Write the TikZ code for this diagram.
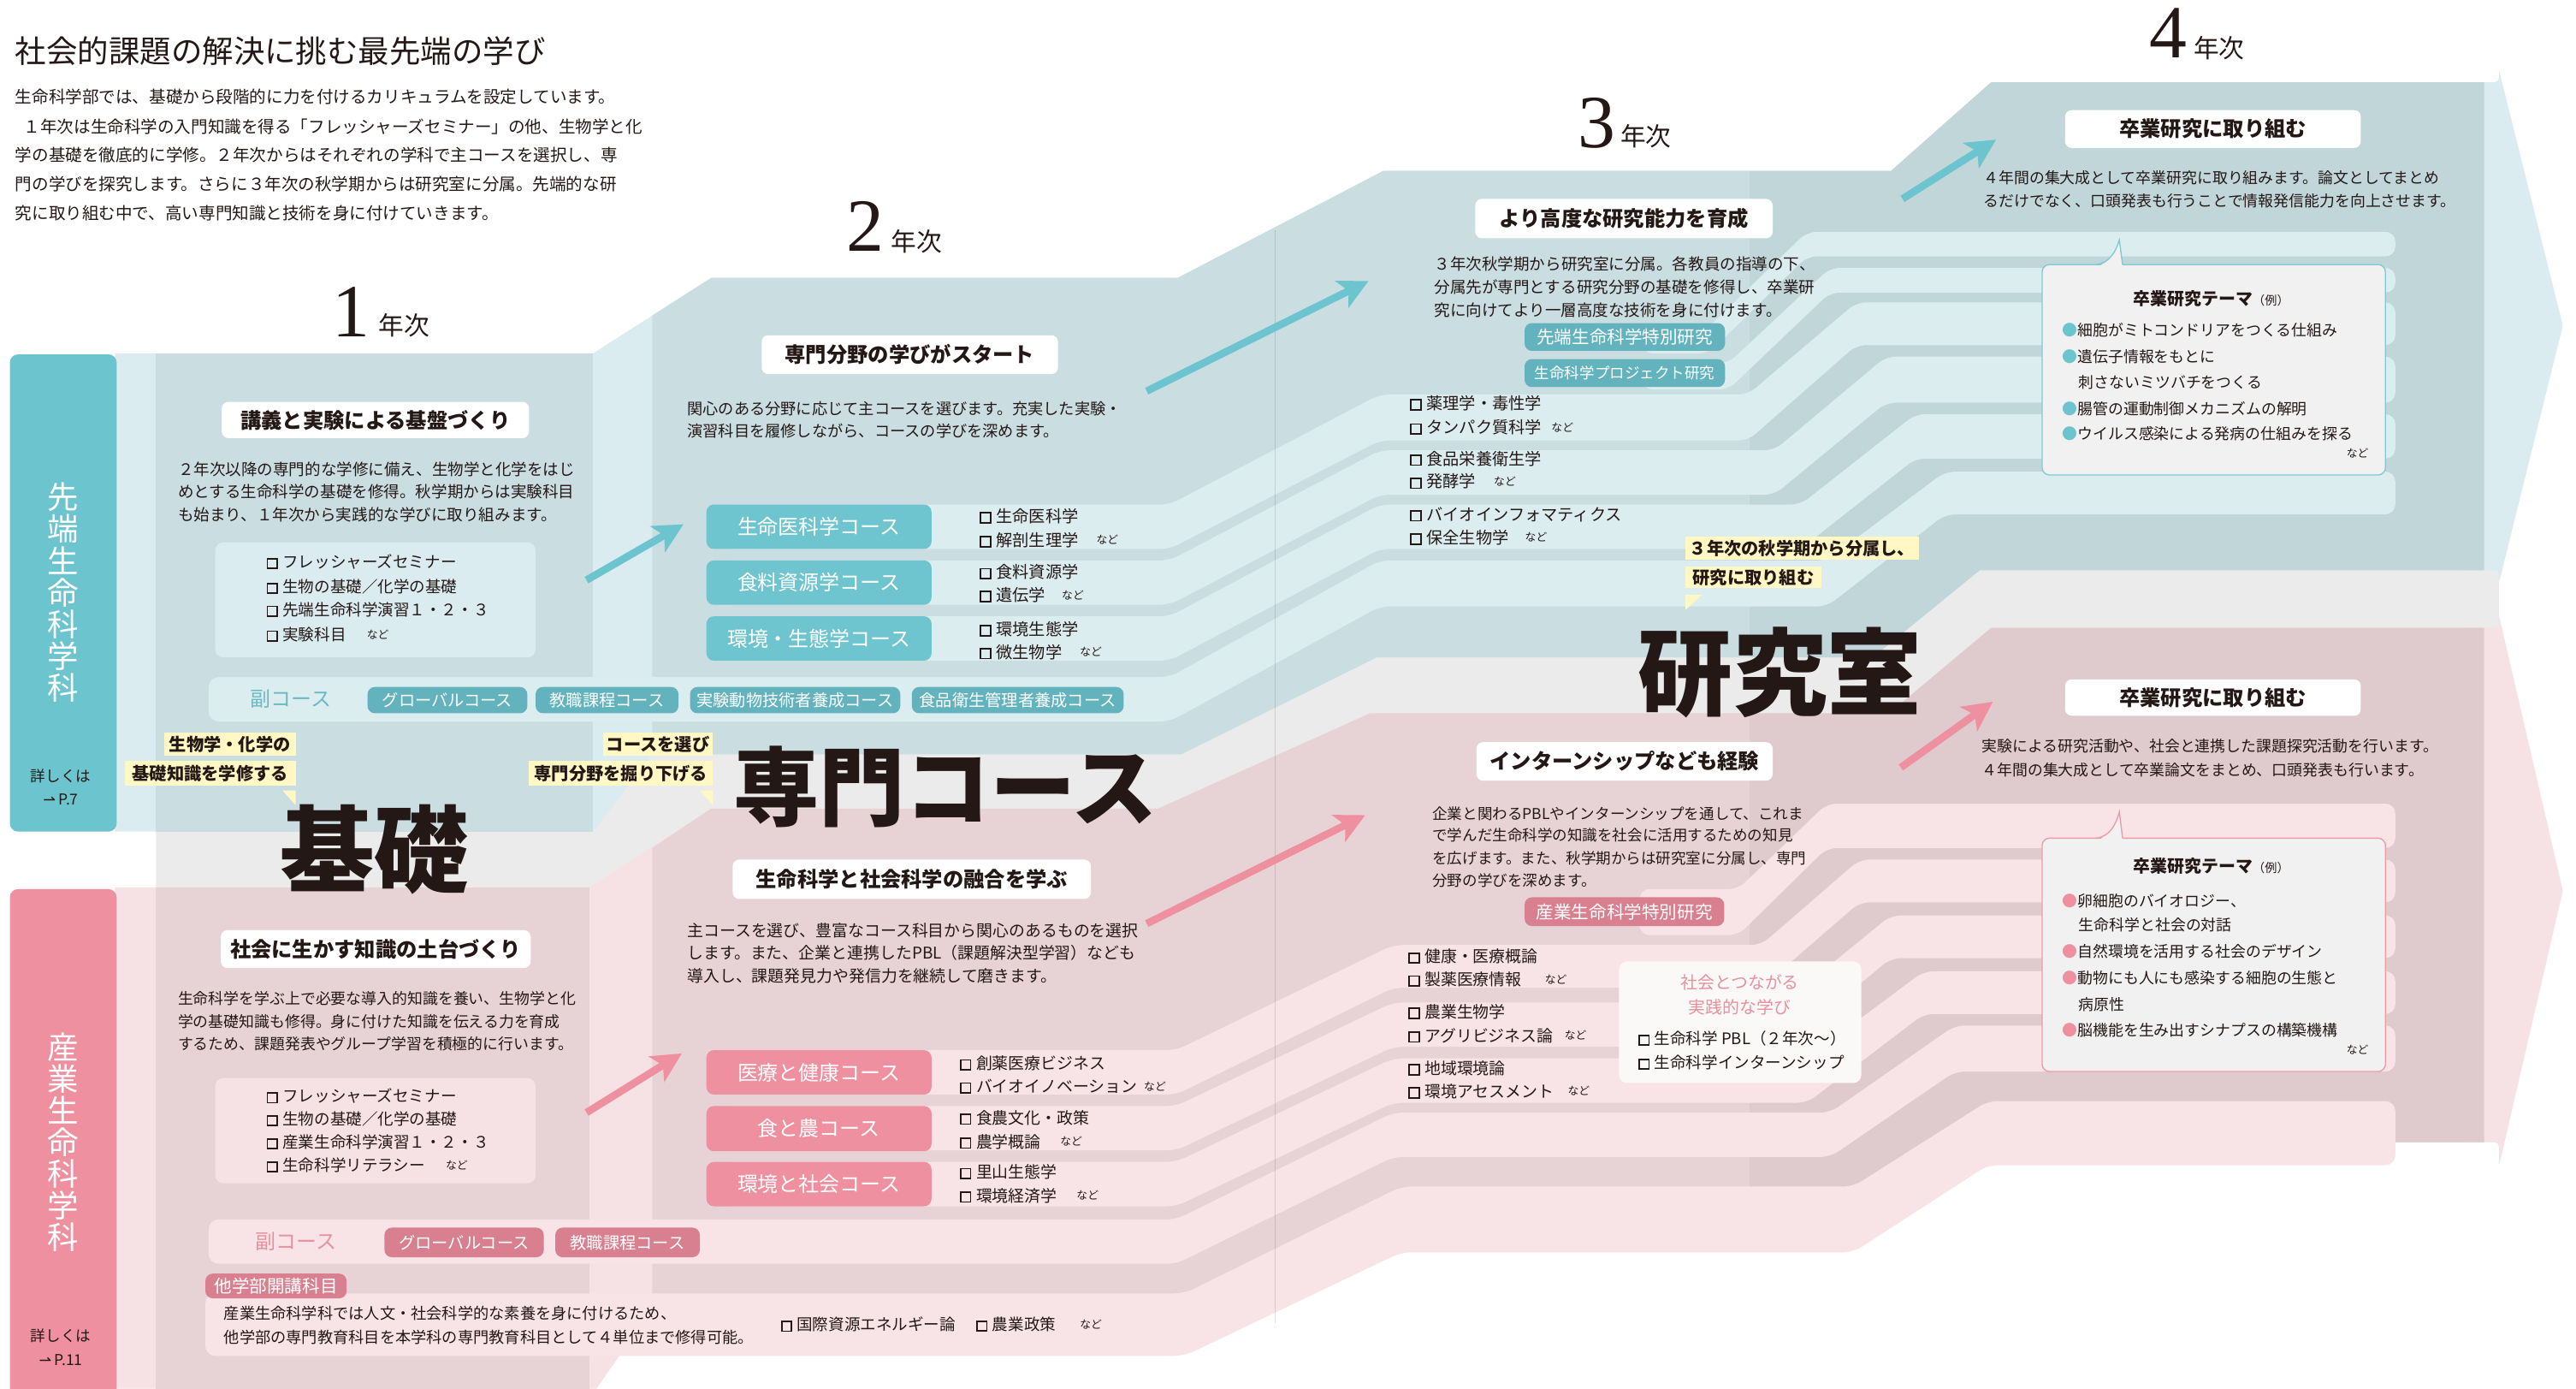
\documentclass[tikz,border=0pt]{standalone}
\usepackage{fontspec}
\setmainfont{Noto Sans CJK JP}
\newfontfamily\numfont{Liberation Serif}
\newfontfamily\symfont{DejaVu Sans}
\usetikzlibrary{arrows.meta}
\definecolor{ink}{HTML}{231815}
\definecolor{tTab}{HTML}{6CC4CE}
\definecolor{tLight}{HTML}{DAECEF}
\definecolor{tMid}{HTML}{CADDE0}
\definecolor{tDark}{HTML}{C1D6D9}
\definecolor{tStripe}{HTML}{DCEDF0}
\definecolor{tBtn}{HTML}{6FC5CF}
\definecolor{tBtn2}{HTML}{63B3BE}
\definecolor{tSub}{HTML}{6BB9C4}
\definecolor{tBorder}{HTML}{7FC9D2}
\definecolor{pTab}{HTML}{EE909F}
\definecolor{pLight}{HTML}{F6E1E4}
\definecolor{pMid}{HTML}{E7D3D6}
\definecolor{pDark}{HTML}{DFCACD}
\definecolor{pStripe}{HTML}{F8E4E7}
\definecolor{pBtn}{HTML}{EE909F}
\definecolor{pBtn2}{HTML}{D8808F}
\definecolor{pSub}{HTML}{E5919E}
\definecolor{pBorder}{HTML}{EE9AA7}
\definecolor{greyB}{HTML}{EBEBEB}
\definecolor{yel}{HTML}{FFF8C4}
\definecolor{bub}{HTML}{F1F1F1}
\definecolor{soc}{HTML}{FBF9F8}
\newcommand{\fsz}[1]{\fontsize{#1}{#1}\selectfont}
\newcommand{\cbx}{\raisebox{0.02em}{\setlength{\fboxsep}{0pt}\setlength{\fboxrule}{0.5pt}\fbox{\rule{0pt}{0.52em}\hspace{0.52em}}}\hspace{0.3em}}
\newcommand{\hdbox}[6]{\fill[white, rounded corners=0.8mm] (#2,#3) rectangle (#4,#5); \node[hd] (#1) at ({(#2+#4)/2},{(#3+#5)/2}) {#6};}
\newcommand{\btn}[8]{\fill[#2, rounded corners=0.9mm] (#3,#4) rectangle (#5,#6); \node[#7] (#1) at ({(#3+#5)/2},{(#4+#6)/2}) {#8};}
\newcommand{\callout}[6]{\fill[yel] (#2,#3) rectangle (#4,#5); \node[cal] (#1) at ({(#2+#4)/2},{(#3+#5)/2}) {#6};}
\begin{document}
\begin{tikzpicture}[x=0.2mm,y=-0.2mm,
 every node/.style={inner sep=0pt, text=ink},
 tx/.style={anchor=west, font=\fsz{5.5pt}},
 hd/.style={font=\fsz{7.2pt}\bfseries},
 bt/.style={text=white, font=\fsz{7.1pt}},
 sbt/.style={text=white, font=\fsz{5.7pt}},
 rbt/.style={text=white, font=\fsz{6.1pt}},
 cal/.style={font=\fsz{6pt}\bfseries},
 nd/.style={anchor=west, font=\fsz{3.8pt}},
 bigw/.style={font=\bfseries},
 stT/.style={fill=tStripe, rounded corners=1.2mm},
 stP/.style={fill=pStripe, rounded corners=1.2mm},
 arT/.style={draw=tTab, line width=0.9mm, -{Stealth[length=3.6mm,width=3.6mm,inset=0.9mm]}},
 arP/.style={draw=pTab, line width=0.9mm, -{Stealth[length=3.6mm,width=3.6mm,inset=0.9mm]}}
]
\useasboundingbox (0,0) rectangle (1568,845);
\fill[white] (0,0) rectangle (1568,845);
% ---------- grey middle band
\fill[greyB] (95,500) -- (361,500) -- (397,453) -- (719,453) -- (838,394) -- (1140,394) -- (1205,341) -- (1521,341) -- (1521,388) -- (1212,388) -- (1150,440) -- (834,440) -- (705,498) -- (433,498) -- (359,546) -- (95,546) -- cycle;
% ---------- teal band
\fill[tLight, rounded corners=0.5mm] (1495,50) -- (1521,50) -- (1521,42) -- (1560,198) -- (1521,355) -- (1521,347) -- (1495,347) -- cycle;
\fill[tLight] (70,215) -- (361,215) -- (433,169) -- (717,169) -- (842,104) -- (1151,104) -- (1212,50) -- (1512,50) -- (1512,347) -- (1205,347) -- (1140,400) -- (838,400) -- (719,459) -- (397,459) -- (361,506) -- (70,506) -- cycle;
\fill[tMid] (95,215) rectangle (361,506);
\fill[tMid] (397,192) -- (433,169) -- (717,169) -- (842,104) -- (1065,104) -- (1065,400) -- (838,400) -- (719,459) -- (397,459) -- cycle;
\fill[tDark] (1065,104) -- (1151,104) -- (1212,50) -- (1512,50) -- (1512,347) -- (1205,347) -- (1140,400) -- (1065,400) -- cycle;
\fill[stT] (440,307) -- (712,307) -- (840,240) -- (1064,240) -- (1130,184) -- (1458,184) -- (1458,210) -- (1130,210) -- (1064,268) -- (840,268) -- (712,334) -- (440,334) -- cycle;
\fill[stT] (440,341) -- (712,341) -- (840,274) -- (1080,274) -- (1148,217) -- (1458,217) -- (1458,245) -- (1148,245) -- (1080,301) -- (840,301) -- (712,368) -- (440,368) -- cycle;
\fill[stT] (440,375) -- (712,375) -- (840,307) -- (1096,307) -- (1166,252) -- (1458,252) -- (1458,279) -- (1166,279) -- (1096,334) -- (840,334) -- (712,402) -- (440,402) -- cycle;
\fill[stT] (127,412) -- (712,412) -- (840,341) -- (1112,341) -- (1184,287) -- (1458,287) -- (1458,313) -- (1184,313) -- (1112,369) -- (840,369) -- (712,439) -- (127,439) -- cycle;
\fill[stT] (1000,199) -- (1040,199) -- (1100,141) -- (1458,141) -- (1458,156) -- (1100,156) -- (1040,215) -- (1000,215) -- cycle;
\fill[stT] (1000,221) -- (1052,221) -- (1114,163) -- (1458,163) -- (1458,178) -- (1114,178) -- (1052,237) -- (1000,237) -- cycle;
% ---------- pink band
\fill[pLight, rounded corners=0.5mm] (1495,382) -- (1521,382) -- (1521,374) -- (1560,542) -- (1521,710) -- (1521,695) -- (1495,695) -- cycle;
\fill[pLight] (70,540) -- (359,540) -- (433,492) -- (705,492) -- (834,434) -- (1150,434) -- (1212,382) -- (1512,382) -- (1512,695) -- (1205,695) -- (1126,750) -- (853,750) -- (721,815) -- (384,815) -- (363,845) -- (70,845) -- cycle;
\fill[pMid] (95,540) rectangle (359,845);
\fill[pMid] (397,516) -- (433,492) -- (705,492) -- (834,434) -- (1065,434) -- (1065,750) -- (853,750) -- (721,815) -- (397,815) -- cycle;
\fill[pDark] (1065,434) -- (1150,434) -- (1212,382) -- (1512,382) -- (1512,695) -- (1205,695) -- (1126,750) -- (1065,750) -- cycle;
\fill[stP] (440,639) -- (716,639) -- (848,575) -- (1072,575) -- (1132,523) -- (1458,523) -- (1458,549) -- (1132,549) -- (1072,601) -- (848,601) -- (716,666) -- (440,666) -- cycle;
\fill[stP] (440,673) -- (716,673) -- (848,610) -- (1086,610) -- (1151,557) -- (1458,557) -- (1458,583) -- (1151,583) -- (1086,637) -- (848,637) -- (716,700) -- (440,700) -- cycle;
\fill[stP] (440,707) -- (716,707) -- (848,644) -- (1100,644) -- (1171,591) -- (1458,591) -- (1458,617) -- (1171,617) -- (1100,671) -- (848,671) -- (716,734) -- (440,734) -- cycle;
\fill[stP] (127,742) -- (716,742) -- (848,677) -- (1114,677) -- (1190,624) -- (1458,624) -- (1458,652) -- (1190,652) -- (1114,704) -- (848,704) -- (716,769) -- (127,769) -- cycle;
\fill[stP] (125,787) -- (721,787) -- (853,722) -- (1128,722) -- (1210,670) -- (1458,670) -- (1458,709) -- (1210,709) -- (1128,762) -- (853,762) -- (721,825) -- (125,825) -- cycle;
\fill[stP] (998,541) -- (1058,541) -- (1112,489) -- (1458,489) -- (1458,516) -- (1112,516) -- (1058,569) -- (998,569) -- cycle;
% gutter line
\draw[black, opacity=0.12, line width=0.3pt] (776,140) -- (776,805);
% ---------- header
\node[anchor=west, font=\fsz{10.8pt}] (title) at (9,31) {社会的課題の解決に挑む最先端の学び};
\node[tx, font=\fsz{5.8pt}] (p1) at (9,59) {生命科学部では、基礎から段階的に力を付けるカリキュラムを設定しています。};
\node[tx, font=\fsz{5.8pt}] (p2) at (9,77) {\hspace{0.5em}１年次は生命科学の入門知識を得る「フレッシャーズセミナー」の他、生物学と化};
\node[tx, font=\fsz{5.8pt}] (p3) at (9,94.5) {学の基礎を徹底的に学修。２年次からはそれぞれの学科で主コースを選択し、専};
\node[tx, font=\fsz{5.8pt}] (p4) at (9,112) {門の学びを探究します。さらに３年次の秋学期からは研究室に分属。先端的な研};
\node[tx, font=\fsz{5.8pt}] (p5) at (9,129.5) {究に取り組む中で、高い専門知識と技術を身に付けていきます。};
% years
\node[anchor=base west, font=\numfont\fsz{26pt}] (y1n) at (202,205) {1};
\node[anchor=base west, font=\fsz{8.8pt}] (y1t) at (230,204) {年次};
\node[anchor=base west, font=\numfont\fsz{26pt}] (y2n) at (515,153) {2};
\node[anchor=base west, font=\fsz{8.8pt}] (y2t) at (542,153) {年次};
\node[anchor=base west, font=\numfont\fsz{26pt}] (y3n) at (960,90) {3};
\node[anchor=base west, font=\fsz{8.8pt}] (y3t) at (986,89) {年次};
\node[anchor=base west, font=\numfont\fsz{26pt}] (y4n) at (1308,35) {4};
\node[anchor=base west, font=\fsz{8.8pt}] (y4t) at (1335,35) {年次};
% ---------- tabs
\fill[tTab, rounded corners=1mm] (6,215.6) rectangle (71,506);
\node[text=white, align=center, font=\fontsize{10.8pt}{11pt}\selectfont] (tabT) at (38.5,360.5) {先\\端\\生\\命\\科\\学\\科};
\node[font=\fsz{5.2pt}] (tabTa) at (37,472) {詳しくは};
\node[font=\fsz{5.2pt}] (tabTb) at (37,486.5) {{\symfont ⇀}\,P.7};
\fill[pTab, rounded corners=1mm] (6,541) rectangle (71,870);
\node[text=white, align=center, font=\fontsize{10.8pt}{11pt}\selectfont] (tabP) at (38.5,695) {産\\業\\生\\命\\科\\学\\科};
\node[font=\fsz{5.2pt}] (tabPa) at (37,813) {詳しくは};
\node[font=\fsz{5.2pt}] (tabPb) at (37,827.5) {{\symfont ⇀}\,P.11};
% ---------- col1 teal
\hdbox{h1t}{135}{244.5}{322}{266.6}{講義と実験による基盤づくり}
\node[tx] (c1t1) at (108,285.6) {２年次以降の専門的な学修に備え、生物学と化学をはじ};
\node[tx] (c1t2) at (108,299) {めとする生命科学の基礎を修得。秋学期からは実験科目};
\node[tx] (c1t3) at (108,313) {も始まり、１年次から実践的な学びに取り組みます。};
\fill[tLight, rounded corners=1mm] (131,330) rectangle (326,400);
\node[tx] (i1t1) at (162,342) {\cbx フレッシャーズセミナー};
\node[tx] (i1t2) at (162,357) {\cbx 生物の基礎／化学の基礎};
\node[tx] (i1t3) at (162,371) {\cbx 先端生命科学演習１・２・３};
\node[tx] (i1t4) at (162,386) {\cbx 実験科目};
\node[nd] (n1t) at (223,386) {など};
\node[font=\fsz{7.1pt}, text=tSub] (subT) at (177,425.5) {副コース};
\btn{s1}{tBtn2}{223.7}{418}{321}{434}{sbt}{グローバルコース}
\btn{s2}{tBtn2}{326}{418}{413}{434}{sbt}{教職課程コース}
\btn{s3}{tBtn2}{420}{418}{548}{434}{sbt}{実験動物技術者養成コース}
\btn{s4}{tBtn2}{555}{418}{684}{434}{sbt}{食品衛生管理者養成コース}
\callout{ca1}{100}{446}{180}{460}{生物学・化学の}
\callout{ca2}{76}{463}{180}{478}{基礎知識を学修する}
\fill[yel] (172,481) -- (180,481) -- (180,490) -- cycle;
\callout{cb1}{367}{446}{434}{460}{コースを選び}
\callout{cb2}{322}{463}{434}{478}{専門分野を掘り下げる}
\fill[yel] (426,481) -- (434,481) -- (434,490) -- cycle;
% ---------- col2 teal
\hdbox{h2t}{463.6}{204}{644}{227.6}{専門分野の学びがスタート}
\node[tx, font=\fsz{5.4pt}] (c2t1) at (418,248.5) {関心のある分野に応じて主コースを選びます。充実した実験・};
\node[tx, font=\fsz{5.4pt}] (c2t2) at (418,262) {演習科目を履修しながら、コースの学びを深めます。};
\btn{k1}{tBtn}{430}{307}{567}{334}{bt}{生命医科学コース}
\btn{k2}{tBtn}{430}{341}{567}{368}{bt}{食料資源学コース}
\btn{k3}{tBtn}{430}{375}{567}{402}{bt}{環境・生態学コース}
\node[tx, font=\fsz{5.7pt}] (i2t1) at (596,314) {\cbx 生命医科学};
\node[tx, font=\fsz{5.7pt}] (i2t2) at (596,328.6) {\cbx 解剖生理学};
\node[nd] (n2t1) at (667,328.6) {など};
\node[tx, font=\fsz{5.7pt}] (i2t3) at (596,348) {\cbx 食料資源学};
\node[tx, font=\fsz{5.7pt}] (i2t4) at (596,362) {\cbx 遺伝学};
\node[nd] (n2t2) at (646,362) {など};
\node[tx, font=\fsz{5.7pt}] (i2t5) at (596,382.7) {\cbx 環境生態学};
\node[tx, font=\fsz{5.7pt}] (i2t6) at (596,396.7) {\cbx 微生物学};
\node[nd] (n2t3) at (657,396.7) {など};
% ---------- col3 teal
\hdbox{h3t}{898}{121}{1079}{145}{より高度な研究能力を育成}
\node[tx] (c3t1) at (872.7,160.7) {３年次秋学期から研究室に分属。各教員の指導の下、};
\node[tx] (c3t2) at (872.7,174.7) {分属先が専門とする研究分野の基礎を修得し、卒業研};
\node[tx] (c3t3) at (872.7,188.6) {究に向けてより一層高度な技術を身に付けます。};
\btn{r1}{tBtn2}{928}{196.6}{1050}{213.5}{rbt}{先端生命科学特別研究}
\btn{r2}{tBtn2}{928}{218.5}{1050}{235.5}{sbt, font=\fsz{5.2pt}}{生命科学プロジェクト研究}
\node[tx, font=\fsz{5.7pt}] (i3t1) at (858,245.3) {\cbx 薬理学・毒性学};
\node[tx, font=\fsz{5.7pt}] (i3t2) at (858,260) {\cbx タンパク質科学};
\node[nd] (n3t1) at (944,260) {など};
\node[tx, font=\fsz{5.7pt}] (i3t3) at (858,279) {\cbx 食品栄養衛生学};
\node[tx, font=\fsz{5.7pt}] (i3t4) at (858,293) {\cbx 発酵学};
\node[nd] (n3t2) at (909,293) {など};
\node[tx, font=\fsz{5.7pt}] (i3t5) at (858,313) {\cbx バイオインフォマティクス};
\node[tx, font=\fsz{5.7pt}] (i3t6) at (858,327) {\cbx 保全生物学};
\node[nd] (n3t3) at (928,327) {など};
\callout{cc1}{1026}{326.6}{1168}{340.6}{３年次の秋学期から分属し、}
\callout{cc2}{1026}{344.5}{1108.6}{358}{研究に取り組む}
\fill[yel] (1026,362) -- (1036,362) -- (1026,371) -- cycle;
% ---------- col4 teal
\hdbox{h4t}{1257}{67}{1437}{90}{卒業研究に取り組む}
\node[tx, font=\fsz{5.3pt}] (c4t1) at (1207,108) {４年間の集大成として卒業研究に取り組みます。論文としてまとめ};
\node[tx, font=\fsz{5.3pt}] (c4t2) at (1207,122) {るだけでなく、口頭発表も行うことで情報発信能力を向上させます。};
\fill[bub, draw=tBorder, line width=0.4pt, rounded corners=0.9mm] (1243,161) rectangle (1452,289);
\fill[bub] (1276,162.5) .. controls (1284,160) and (1288,153) .. (1290,146) -- (1292,162.5) -- cycle;
\draw[tBorder, line width=0.4pt] (1276,161) .. controls (1284,160) and (1288,153) .. (1290,146) -- (1292,161);
\node[font=\fsz{5.9pt}\bfseries] (bt0) at (1346,181.6) {卒業研究テーマ{\mdseries\fsz{4.2pt}（例）}};
\node[tx, font=\fsz{5.3pt}] (bt1) at (1255,201) {{\color{tTab}●}細胞がミトコンドリアをつくる仕組み};
\node[tx, font=\fsz{5.3pt}] (bt2) at (1255,217) {{\color{tTab}●}遺伝子情報をもとに};
\node[tx, font=\fsz{5.3pt}] (bt3) at (1265,232.5) {刺さないミツバチをつくる};
\node[tx, font=\fsz{5.3pt}] (bt4) at (1255,248.7) {{\color{tTab}●}腸管の運動制御メカニズムの解明};
\node[tx, font=\fsz{5.3pt}] (bt5) at (1255,264) {{\color{tTab}●}ウイルス感染による発病の仕組みを探る};
\node[nd, anchor=east] (bt6) at (1442,276) {など};
% ---------- col1 pink
\hdbox{h1p}{134.4}{566}{323}{589}{社会に生かす知識の土台づくり}
\node[tx, font=\fsz{5.3pt}] (c1p1) at (108,607.8) {生命科学を学ぶ上で必要な導入的知識を養い、生物学と化};
\node[tx, font=\fsz{5.3pt}] (c1p2) at (108,621.6) {学の基礎知識も修得。身に付けた知識を伝える力を育成};
\node[tx, font=\fsz{5.3pt}] (c1p3) at (108,635.3) {するため、課題発表やグループ学習を積極的に行います。};
\fill[pLight, rounded corners=1mm] (131,656) rectangle (326,720);
\node[tx] (i1p1) at (162,667) {\cbx フレッシャーズセミナー};
\node[tx] (i1p2) at (162,681) {\cbx 生物の基礎／化学の基礎};
\node[tx] (i1p3) at (162,695) {\cbx 産業生命科学演習１・２・３};
\node[tx] (i1p4) at (162,709) {\cbx 生命科学リテラシー};
\node[nd] (n1p) at (271,709) {など};
\node[font=\fsz{7.1pt}, text=pSub] (subP) at (180,755.5) {副コース};
\btn{s5}{pBtn2}{234}{747}{331}{765}{sbt}{グローバルコース}
\btn{s6}{pBtn2}{338}{747}{426}{765}{sbt}{教職課程コース}
\btn{tag}{pBtn2}{125}{775}{211}{790}{rbt}{他学部開講科目}
\node[tx, font=\fsz{5.4pt}] (o1) at (136,799) {産業生命科学科では人文・社会科学的な素養を身に付けるため、};
\node[tx, font=\fsz{5.4pt}] (o2) at (136,813.5) {他学部の専門教育科目を本学科の専門教育科目として４単位まで修得可能。};
\node[tx, font=\fsz{5.5pt}] (o3) at (475,806) {\cbx 国際資源エネルギー論};
\node[tx, font=\fsz{5.5pt}] (o4) at (594,806) {\cbx 農業政策};
\node[nd] (n0p) at (657,806) {など};
% ---------- col2 pink
\hdbox{h2p}{446}{523}{664}{547}{生命科学と社会科学の融合を学ぶ}
\node[tx, font=\fsz{5.6pt}] (c2p1) at (418,566) {主コースを選び、豊富なコース科目から関心のあるものを選択};
\node[tx, font=\fsz{5.6pt}] (c2p2) at (418,580) {します。また、企業と連携したPBL（課題解決型学習）なども};
\node[tx, font=\fsz{5.6pt}] (c2p3) at (418,594) {導入し、課題発見力や発信力を継続して磨きます。};
\btn{k4}{pBtn}{430}{639}{567}{666}{bt}{医療と健康コース}
\btn{k5}{pBtn}{430}{673}{567}{700.5}{bt}{食と農コース}
\btn{k6}{pBtn}{430}{707}{567}{734}{bt}{環境と社会コース}
\node[tx, font=\fsz{5.6pt}] (i2p1) at (584,647) {\cbx 創薬医療ビジネス};
\node[tx, font=\fsz{5.6pt}] (i2p2) at (584,661) {\cbx バイオイノベーション};
\node[nd] (n2p1) at (696,661) {など};
\node[tx, font=\fsz{5.6pt}] (i2p3) at (584,680) {\cbx 食農文化・政策};
\node[tx, font=\fsz{5.6pt}] (i2p4) at (584,694.6) {\cbx 農学概論};
\node[nd] (n2p2) at (645,694.6) {など};
\node[tx, font=\fsz{5.6pt}] (i2p5) at (584,713) {\cbx 里山生態学};
\node[tx, font=\fsz{5.6pt}] (i2p6) at (584,727.5) {\cbx 環境経済学};
\node[nd] (n2p3) at (655,727.5) {など};
% ---------- col3 pink
\hdbox{h3p}{898.7}{451.6}{1079}{475}{インターンシップなども経験}
\node[tx, font=\fsz{5.2pt}] (c3p1) at (871.6,495) {企業と関わるPBLやインターンシップを通して、これま};
\node[tx, font=\fsz{5.2pt}] (c3p2) at (871.6,508) {で学んだ生命科学の知識を社会に活用するための知見};
\node[tx, font=\fsz{5.2pt}] (c3p3) at (871.6,522) {を広げます。また、秋学期からは研究室に分属し、専門};
\node[tx, font=\fsz{5.2pt}] (c3p4) at (871.6,536) {分野の学びを深めます。};
\btn{r3}{pBtn2}{928}{546}{1049.5}{563.5}{rbt}{産業生命科学特別研究}
\node[tx, font=\fsz{5.6pt}] (i3p1) at (857,582) {\cbx 健康・医療概論};
\node[tx, font=\fsz{5.6pt}] (i3p2) at (857,596) {\cbx 製薬医療情報};
\node[nd] (n3p1) at (940,596) {など};
\node[tx, font=\fsz{5.6pt}] (i3p3) at (857,615.6) {\cbx 農業生物学};
\node[tx, font=\fsz{5.6pt}] (i3p4) at (857,630) {\cbx アグリビジネス論};
\node[nd] (n3p2) at (952,630) {など};
\node[tx, font=\fsz{5.6pt}] (i3p5) at (857,650) {\cbx 地域環境論};
\node[tx, font=\fsz{5.6pt}] (i3p6) at (857,664) {\cbx 環境アセスメント};
\node[nd] (n3p3) at (954,664) {など};
\fill[soc, rounded corners=1mm] (985.5,585) rectangle (1133,659);
\node[font=\fsz{5.9pt}, text=pSub] (sc1) at (1059,598) {社会とつながる};
\node[font=\fsz{5.9pt}, text=pSub] (sc2) at (1059,613) {実践的な学び};
\node[tx, font=\fsz{5.5pt}] (sc3) at (997,632) {\cbx 生命科学 PBL（２年次〜）};
\node[tx, font=\fsz{5.5pt}] (sc4) at (997,646.5) {\cbx 生命科学インターンシップ};
% ---------- col4 pink
\hdbox{h4p}{1257}{413.4}{1437}{435.5}{卒業研究に取り組む}
\node[tx, font=\fsz{5.3pt}] (c4p1) at (1206,454) {実験による研究活動や、社会と連携した課題探究活動を行います。};
\node[tx, font=\fsz{5.3pt}] (c4p2) at (1206,468.5) {４年間の集大成として卒業論文をまとめ、口頭発表も行います。};
\fill[bub, draw=pBorder, line width=0.4pt, rounded corners=0.9mm] (1243,510) rectangle (1452,652);
\fill[bub] (1276,511.5) .. controls (1284,509) and (1288,502) .. (1290,494) -- (1292,511.5) -- cycle;
\draw[pBorder, line width=0.4pt] (1276,510) .. controls (1284,509) and (1288,502) .. (1290,494) -- (1292,510);
\node[font=\fsz{5.9pt}\bfseries] (bp0) at (1346,527) {卒業研究テーマ{\mdseries\fsz{4.2pt}（例）}};
\node[tx, font=\fsz{5.3pt}] (bp1) at (1255,548) {{\color{pTab}●}卵細胞のバイオロジー、};
\node[tx, font=\fsz{5.3pt}] (bp2) at (1265,563) {生命科学と社会の対話};
\node[tx, font=\fsz{5.3pt}] (bp3) at (1255,579) {{\color{pTab}●}自然環境を活用する社会のデザイン};
\node[tx, font=\fsz{5.3pt}] (bp4) at (1255,595) {{\color{pTab}●}動物にも人にも感染する細胞の生態と};
\node[tx, font=\fsz{5.3pt}] (bp5) at (1265,611) {病原性};
\node[tx, font=\fsz{5.3pt}] (bp6) at (1255,627) {{\color{pTab}●}脳機能を生み出すシナプスの構築機構};
\node[nd, anchor=east] (bp7) at (1442,639) {など};
% ---------- arrows
\coordinate (a1s) at (357,353); \coordinate (a1e) at (416,319);
\coordinate (a2s) at (698,238); \coordinate (a2e) at (833,171);
\coordinate (a3s) at (1158,121); \coordinate (a3e) at (1215,85);
\coordinate (a4s) at (357,677); \coordinate (a4e) at (415,641);
\coordinate (a5s) at (698,562); \coordinate (a5e) at (831,496);
\coordinate (a6s) at (1157,467); \coordinate (a6e) at (1213,427);
\draw[arT] (a1s) -- (a1e);
\draw[arT] (a2s) -- (a2e);
\draw[arT] (a3s) -- (a3e);
\draw[arP] (a4s) -- (a4e);
\draw[arP] (a5s) -- (a5e);
\draw[arP] (a6s) -- (a6e);
% ---------- big words
\node[bigw, font=\bfseries\fsz{32.7pt}] (kiso) at (228,517) {基礎};
\node[bigw, font=\bfseries\fsz{29.7pt}] (senmon) at (575.5,479) {専門コース};
\node[bigw, font=\bfseries\fsz{32.8pt}] (kenkyu) at (1083.5,409.5) {研究室};
\end{tikzpicture}
\end{document}
